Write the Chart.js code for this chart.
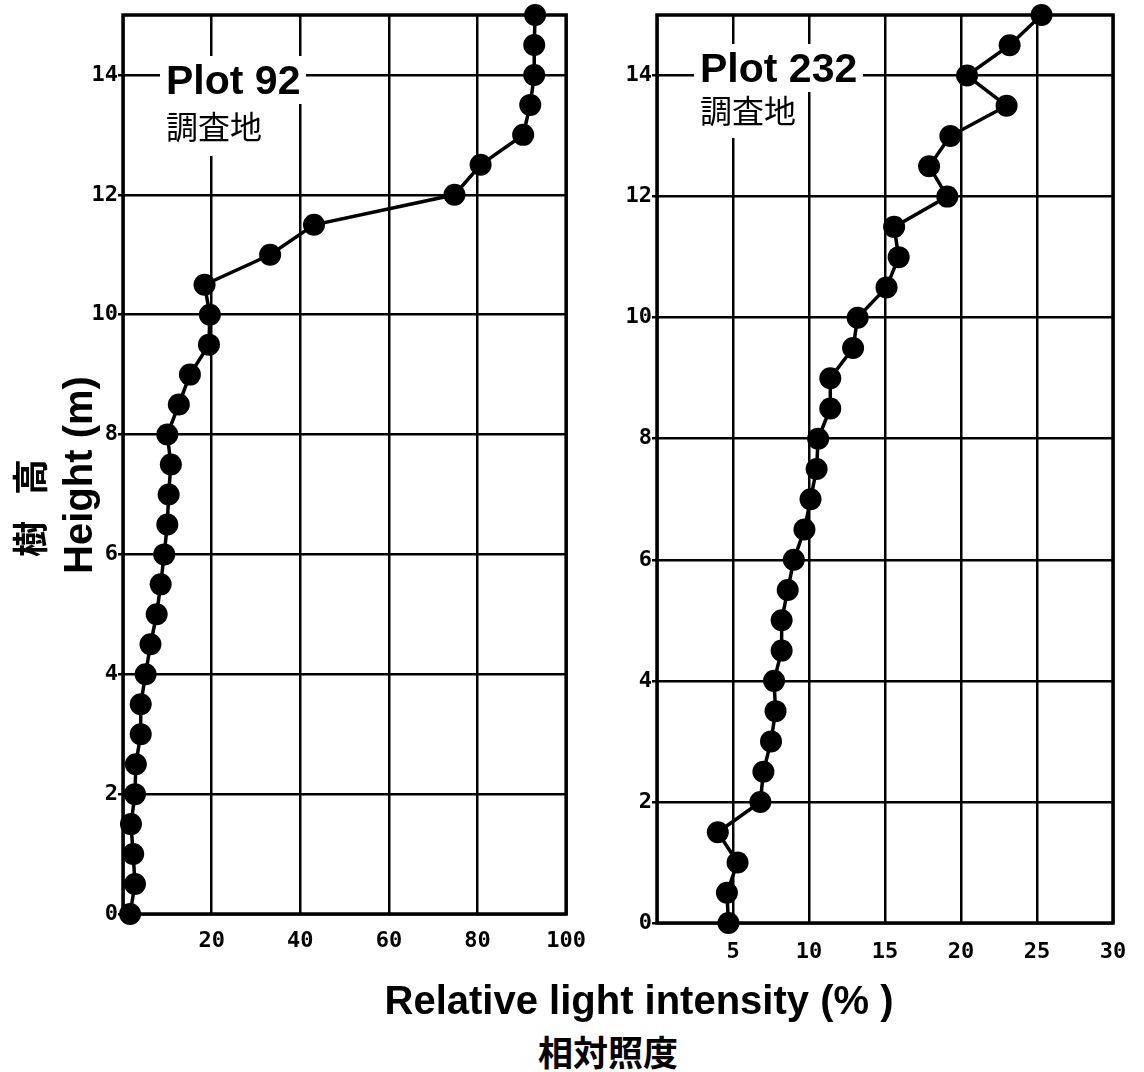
<!DOCTYPE html>
<html>
<head>
<meta charset="utf-8">
<script src="https://cdn.jsdelivr.net/npm/chart.js@4.4.1/dist/chart.umd.min.js"></script>
<style>
body{margin:0;background:#fff;}
#wrap{position:relative;width:1144px;height:1072px;overflow:hidden;background:#fff;}
canvas{position:absolute;top:0;}
.lbl{position:absolute;}
.lbl div{background:#fff;width:fit-content;padding:0 6px;}
.plot{font:bold 41px "Liberation Sans",Arial,sans-serif;line-height:48px;color:#000;}
.site{font:32px "Noto Sans CJK JP",sans-serif;color:#000;}
.rot{position:absolute;transform:translate(-50%,-50%) rotate(-90deg);white-space:nowrap;color:#000;font-weight:bold;}
.xt{position:absolute;transform:translate(-50%,-50%);white-space:nowrap;color:#000;font-weight:bold;}
</style>
</head>
<body>
<div id="wrap">
  <canvas id="c92" width="600" height="980" style="left:0"></canvas>
  <canvas id="c232" width="544" height="980" style="left:600px"></canvas>

  <div class="lbl" style="left:160px;top:56px">
    <div class="plot">Plot 92</div>
    <div class="site" style="line-height:42px;padding-bottom:10px">調査地</div>
  </div>
  <div class="lbl" style="left:694px;top:44px">
    <div class="plot">Plot 232</div>
    <div class="site" style="line-height:34px;padding-bottom:12px">調査地</div>
  </div>

  <div class="rot" style="left:28px;top:508px;font:bold 36px 'Noto Sans CJK JP',sans-serif;word-spacing:18px">樹 高</div>
  <div class="rot" style="left:78px;top:475px;font:bold 40px 'Liberation Sans',Arial,sans-serif">Height (m)</div>
  <div class="xt" style="left:639px;top:1000px;font:bold 40px 'Liberation Sans',Arial,sans-serif">Relative light intensity (% )</div>
  <div class="xt" style="left:608px;top:1050px;font:bold 35px 'Noto Sans CJK JP',sans-serif">相対照度</div>
</div>

<script>
// heights (m), one reading every 0.5 m
var heights = [0, 0.5, 1, 1.5, 2, 2.5, 3, 3.5, 4, 4.5, 5, 5.5, 6, 6.5, 7, 7.5,
               8, 8.5, 9, 9.5, 10, 10.5, 11, 11.5, 12, 12.5, 13, 13.5, 14, 14.5, 15];

// relative light intensity (%)
var plot92 = [1.6, 2.7, 2.3, 1.8, 2.7, 2.9, 4.0, 4.0, 5.1, 6.2, 7.6, 8.5, 9.3, 10.0, 10.3, 10.8,
              10.0, 12.6, 15.1, 19.4, 19.6, 18.4, 33.2, 43.1, 74.8, 80.7, 90.3, 91.9, 92.8, 92.8, 93.0];
var plot232 = [4.7, 4.6, 5.3, 4.0, 6.8, 7.0, 7.5, 7.8, 7.7, 8.2, 8.2, 8.6, 9.0, 9.7, 10.1, 10.5,
               10.6, 11.4, 11.4, 12.9, 13.2, 15.1, 15.9, 15.6, 19.1, 17.9, 19.3, 23.0, 20.4, 23.2, 25.3];

var yTicks = [0, 2, 4, 6, 8, 10, 12, 14];
var xTicks92 = [0, 20, 40, 60, 80, 100];
var xTicks232 = [0, 5, 10, 15, 20, 25, 30];

var frame = {
  id: 'frame',
  beforeDatasetsDraw: function(chart){
    var a = chart.chartArea, ctx = chart.ctx;
    ctx.save();
    ctx.strokeStyle = '#000';
    ctx.lineWidth = 3.5;
    ctx.strokeRect(a.left, a.top, a.right - a.left, a.bottom - a.top);
    ctx.restore();
  }
};

function drawPlot(id, values, xTicks, yWidth, rightPad, bottomPad, xPad){
  var pts = [];
  for(var i = 0; i < values.length; i++){
    pts.push({x: values[i], y: heights[i]});
  }
  var tickFont = {family: 'DejaVu Sans Mono', size: 22, weight: 'bold'};

  return new Chart(document.getElementById(id), {
    type: 'scatter',
    data: {
      datasets: [{
        data: pts,
        showLine: true,
        borderColor: '#000',
        borderWidth: 3.5,
        pointRadius: 11,
        pointBackgroundColor: '#000',
        pointBorderWidth: 0,
        clip: false
      }]
    },
    options: {
      responsive: false,
      animation: false,
      layout: {padding: {top: 15, left: 0, right: rightPad, bottom: bottomPad}},
      plugins: {legend: {display: false}, tooltip: {enabled: false}},
      scales: {
        x: {
          type: 'linear',
          min: xTicks[0],
          max: xTicks[xTicks.length - 1],
          afterBuildTicks: function(s){ s.ticks = xTicks.map(function(v){ return {value: v}; }); },
          afterFit: function(s){ s.height = 50; },
          border: {display: false},
          grid: {color: '#000', lineWidth: 2.5, drawTicks: false},
          ticks: {
            padding: xPad, color: '#000', font: tickFont, maxRotation: 0,
            callback: function(v){ return v === 0 ? '' : v; }
          }
        },
        y: {
          type: 'linear',
          min: 0,
          max: 15,
          afterBuildTicks: function(s){ s.ticks = yTicks.map(function(v){ return {value: v}; }); },
          afterFit: function(s){ s.width = yWidth; },
          border: {display: false},
          grid: {color: '#000', lineWidth: 2.5, drawTicks: true, tickLength: 5},
          ticks: {padding: 0, color: '#000', font: tickFont}
        }
      }
    },
    plugins: [frame]
  });
}

drawPlot('c92', plot92, xTicks92, 123, 32, 16, 14);
drawPlot('c232', plot232, xTicks232, 57, 31, 7, 16);
</script>
</body>
</html>
